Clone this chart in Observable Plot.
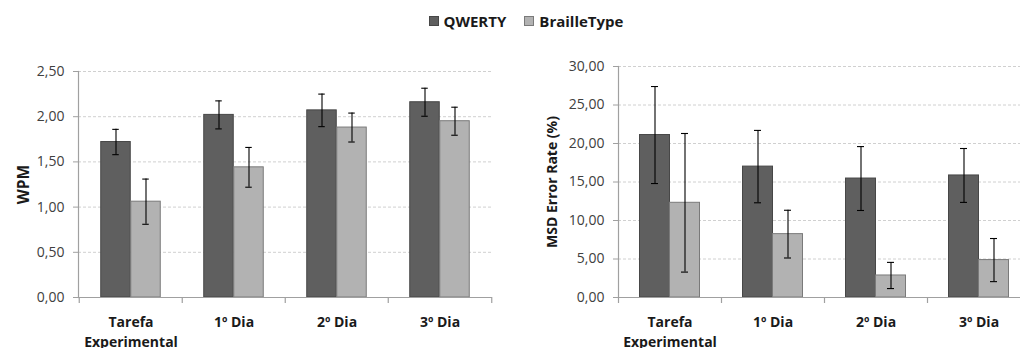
<!DOCTYPE html>
<html>
<head>
<meta charset="utf-8">
<script src="https://cdn.jsdelivr.net/npm/d3@7"></script>
<script src="https://cdn.jsdelivr.net/npm/@observablehq/plot@0.6"></script>
<style>
  html, body { margin: 0; padding: 0; background: #fff; width: 1020px; height: 348px; overflow: hidden; position: relative; font-family: "Open Sans", sans-serif; }
  #legend { position: absolute; top: 9px; left: 16px; width: 1020px; height: 24px; display: flex; justify-content: center; align-items: center; gap: 0; font-weight: bold; font-size: 15px; color: #1a1a1a; }
  .item { display: flex; align-items: center; margin: 0 9px; }
  .sw { width: 8px; height: 8px; margin-right: 5px; }
  #left { position: absolute; left: 0; top: 40px; width: 510px; }
  #right { position: absolute; left: 510px; top: 40px; width: 522px; }
  svg { max-width: none !important; }
</style>
</head>
<body>
<div id="legend"></div>
<div id="left"></div>
<div id="right"></div>
<script>
// ---- data ----
const categories = ["Tarefa\nExperimental", "1º Dia", "2º Dia", "3º Dia"];
const seriesNames = ["QWERTY", "BrailleType"];
const seriesColors = ["#5f5f5f", "#b2b2b2"];
const seriesBorders = ["#474747", "#7a7a7a"];

const wpmQwerty = [1.72, 2.02, 2.07, 2.16];
const wpmQwertyErr = [0.14, 0.155, 0.18, 0.155];
const wpmBraille = [1.06, 1.44, 1.88, 1.95];
const wpmBrailleErr = [0.25, 0.22, 0.16, 0.155];

const msdQwerty = [21.1, 17.0, 15.45, 15.85];
const msdQwertyErr = [6.3, 4.7, 4.15, 3.5];
const msdBraille = [12.3, 8.23, 2.86, 4.86];
const msdBrailleErr = [9.0, 3.1, 1.7, 2.8];

const wpmTicks = [0, 0.5, 1.0, 1.5, 2.0, 2.5];
const msdTicks = [0, 5, 10, 15, 20, 25, 30];

// ---- legend ----
const legend = document.getElementById("legend");
seriesNames.forEach((s, i) => {
  const it = document.createElement("div");
  it.className = "item";
  const sw = document.createElement("span");
  sw.className = "sw";
  sw.style.background = seriesColors[i];
  sw.style.border = "1px solid " + seriesBorders[i];
  const t = document.createElement("span");
  t.textContent = s;
  it.appendChild(sw); it.appendChild(t);
  legend.appendChild(it);
});

const fmt = d => d3.format(".2f")(d).replace(".", ",");

function makeChart({width, marginLeft, marginRight, marginTop, qv, qe, bv, be, ticks, label, labelOffset, labelSize}) {
  const height = 308, marginBottom = 51;
  const bw = (width - marginLeft - marginRight) / categories.length;
  const barW = 30, capW = 7;
  const rows = categories.map((c, i) => ({cat: c, q: qv[i], qe: qe[i], b: bv[i], be: be[i]}));
  const bounds = categories.map((c, i) => ({cat: c, dx: -bw / 2}))
    .concat([{cat: categories[categories.length - 1], dx: bw / 2}]);
  const errMarks = (key, ekey, off) => [
    Plot.ruleX(rows, {x: "cat", dx: off, y1: d => d[key] - d[ekey], y2: d => d[key] + d[ekey], stroke: "#000", strokeWidth: 1.1}),
    Plot.tickY(rows, {x: "cat", y: d => d[key] + d[ekey], insetLeft: bw / 2 + off - capW / 2, insetRight: bw / 2 - off - capW / 2, stroke: "#000", strokeWidth: 1.1}),
    Plot.tickY(rows, {x: "cat", y: d => d[key] - d[ekey], insetLeft: bw / 2 + off - capW / 2, insetRight: bw / 2 - off - capW / 2, stroke: "#000", strokeWidth: 1.1})
  ];
  const svg = Plot.plot({
    width, height, marginLeft, marginRight, marginTop, marginBottom,
    style: {fontFamily: "'Open Sans', sans-serif", fontSize: "14px", color: "#404040", background: "transparent"},
    x: {type: "band", domain: categories, padding: 0, label: null},
    y: {domain: [ticks[0], ticks[ticks.length - 1]], label: null},
    marks: [
      Plot.gridY(ticks.slice(1), {stroke: "#d0d0d0", strokeOpacity: 1, strokeDasharray: "3,2"}),
      Plot.barY(rows, {x: "cat", y: "q", fill: seriesColors[0], stroke: seriesBorders[0], strokeWidth: 1, insetLeft: bw / 2 - barW, insetRight: bw / 2}),
      Plot.barY(rows, {x: "cat", y: "b", fill: seriesColors[1], stroke: seriesBorders[1], strokeWidth: 1, insetLeft: bw / 2, insetRight: bw / 2 - barW}),
      ...errMarks("q", "qe", -barW / 2),
      ...errMarks("b", "be", barW / 2),
      Plot.ruleY([ticks[0]], {stroke: "#a0a0a0", strokeWidth: 1.2}),
      Plot.frame({anchor: "left", stroke: "#a0a0a0", strokeWidth: 1.2}),
      ...bounds.map(b => Plot.ruleX([b], {x: "cat", dx: b.dx, y1: ticks[0], y2: ticks[0], insetBottom: -6, stroke: "#a0a0a0", strokeWidth: 1.2})),
      Plot.axisY({ticks, tickFormat: fmt, tickSize: 5, tickPadding: 9, stroke: "#a0a0a0", fill: "#404040", fontSize: 14,
        label, labelAnchor: "center", labelArrow: "none", labelOffset}),
      Plot.axisX({tickSize: 0, tickPadding: 15, fontWeight: "bold", fontSize: 14, fill: "#1a1a1a", lineHeight: 1.45})
    ]
  });
  svg.querySelectorAll("g[aria-label='y-axis label']").forEach(el => {
    el.setAttribute("font-weight", "bold");
    el.setAttribute("fill", "#1a1a1a");
    el.setAttribute("font-size", labelSize);
  });
  return svg;
}

const left = makeChart({width: 510, marginLeft: 78, marginRight: 18, marginTop: 31,
  qv: wpmQwerty, qe: wpmQwertyErr, bv: wpmBraille, be: wpmBrailleErr,
  ticks: wpmTicks, label: "WPM", labelOffset: 61, labelSize: 15.5});
document.getElementById("left").appendChild(left);

const right = makeChart({width: 522, marginLeft: 108, marginRight: 2, marginTop: 26,
  qv: msdQwerty, qe: msdQwertyErr, bv: msdBraille, be: msdBrailleErr,
  ticks: msdTicks, label: "MSD Error Rate (%)", labelOffset: 71, labelSize: 14});
document.getElementById("right").appendChild(right);
</script>
</body>
</html>
